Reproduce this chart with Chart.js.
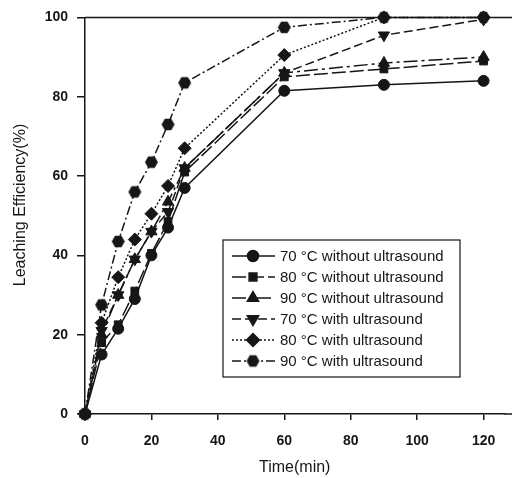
<!DOCTYPE html>
<html>
<head>
<meta charset="utf-8">
<script src="https://cdn.jsdelivr.net/npm/chart.js@4.4.1/dist/chart.umd.min.js"></script>
<style>
html, body { margin: 0; padding: 0; background: #fff; }
#wrap { width: 512px; height: 478px; }
</style>
</head>
<body>
<div id="wrap"><canvas id="leach-chart" width="512" height="478"></canvas></div>
<script>
// time axis (min) and leaching efficiency (%)
const timeMin = [0, 5, 10, 15, 20, 25, 30, 60, 90, 120];
const noUs70 = [0, 15, 21.5, 29, 40, 47, 57, 81.5, 83, 84];
const noUs80 = [0, 18, 22.5, 31, 40.5, 48.5, 61, 85, 87, 89];
const noUs90 = [0, 20, 30, 39, 46, 53.5, 62, 86, 88.5, 90];
const us70 = [0, 21, 30, 39, 46, 51, 62, 86, 95.5, 99.5];
const us80 = [0, 23, 34.5, 44, 50.5, 57.5, 67, 90.5, 100, 100];
const us90 = [0, 27.5, 43.5, 56, 63.5, 73, 83.5, 97.5, 100, 100];

const seriesLabels = [
    '70 \u00B0C without ultrasound',
    '80 \u00B0C without ultrasound',
    '90 \u00B0C without ultrasound',
    '70 \u00B0C with ultrasound',
    '80 \u00B0C with ultrasound',
    '90 \u00B0C with ultrasound'
];
const xTicks = [0, 20, 40, 60, 80, 100, 120];
const yTicks = [0, 20, 40, 60, 80, 100];
const xTitle = 'Time(min)';
const yTitle = 'Leaching Efficiency(%)';

const ink = '#161616';
const fontFamily = '"Liberation Sans", Arial, sans-serif';

//hexagon marker, chart.js has none
function makeHexagon(r) {
    var c = document.createElement('canvas');
    c.width = r * 2 + 2;
    c.height = r * 2 + 2;
    var g = c.getContext('2d');
    g.beginPath();
    for (var i = 0; i < 6; i++) {
        var a = Math.PI / 3 * i;
        var px = r + 1 + r * Math.cos(a);
        var py = r + 1 + r * Math.sin(a);
        if (i == 0) g.moveTo(px, py); else g.lineTo(px, py);
    }
    g.closePath();
    g.fillStyle = ink;
    g.fill();
    return c;
}
const hexMarker = makeHexagon(6.5);

function series(label, values, style, radius, rotation, dash) {
    return {
        label: label,
        data: timeMin.map(function (t, i) { return {x: t, y: values[i]}; }),
        borderColor: ink,
        backgroundColor: ink,
        borderWidth: 1.5,
        borderDash: dash,
        pointStyle: style,
        pointRadius: radius,
        pointRotation: rotation,
        pointBackgroundColor: ink,
        pointBorderColor: ink,
        pointBorderWidth: 1,
        tension: 0,
        clip: false
    };
}

const datasets = [
    series(seriesLabels[0], noUs70, 'circle', 5.5, 0, []),
    series(seriesLabels[1], noUs80, 'rect', 5.5, 0, [14, 4]),
    series(seriesLabels[2], noUs90, 'triangle', 6.5, 0, [14, 4, 3, 4]),
    series(seriesLabels[3], us70, 'triangle', 6.5, 180, [9, 4]),
    series(seriesLabels[4], us80, 'rectRot', 6.5, 0, [2, 2]),
    series(seriesLabels[5], us90, hexMarker, 6.5, 0, [9, 3, 2, 3])
];

// frame lines, y title and boxed legend inside the plot
const framePlugin = {
    id: 'frameAndLegend',
    afterDraw: function (chart) {
        const ctx = chart.ctx;
        const area = chart.chartArea;
        ctx.save();
        ctx.strokeStyle = ink;
        ctx.lineWidth = 1.5;
        ctx.beginPath();
        ctx.moveTo(area.left, area.top);
        ctx.lineTo(chart.width, area.top);
        ctx.moveTo(area.right, area.bottom);
        ctx.lineTo(chart.width, area.bottom);
        ctx.stroke();

        ctx.fillStyle = ink;
        ctx.font = '16px ' + fontFamily;
        ctx.textAlign = 'center';
        ctx.textBaseline = 'middle';
        ctx.save();
        ctx.translate(21, 205);
        ctx.rotate(-Math.PI / 2);
        ctx.fillText(yTitle, 0, 0);
        ctx.restore();

        var bx = 223, by = 240, bw = 237, bh = 137;
        ctx.fillStyle = '#fff';
        ctx.fillRect(bx, by, bw, bh);
        ctx.lineWidth = 1.2;
        ctx.strokeRect(bx, by, bw, bh);

        ctx.font = '15px ' + fontFamily;
        ctx.textAlign = 'left';
        chart.data.datasets.forEach(function (ds, i) {
            var y = 256 + i * 21;
            ctx.strokeStyle = ink;
            ctx.lineWidth = ds.borderWidth;
            ctx.setLineDash(ds.borderDash);
            ctx.beginPath();
            ctx.moveTo(232, y);
            ctx.lineTo(275, y);
            ctx.stroke();
            ctx.setLineDash([]);
            ctx.fillStyle = ink;
            Chart.helpers.drawPoint(ctx, {
                pointStyle: ds.pointStyle,
                radius: ds.pointRadius,
                rotation: ds.pointRotation,
                borderWidth: 1
            }, 253, y);
            ctx.fillStyle = ink;
            ctx.fillText(ds.label, 280, y + 1);
        });
        ctx.restore();
    }
};

const tickFont = {family: fontFamily, size: 14, weight: 'bold'};
const titleFont = {family: fontFamily, size: 16};

new Chart(document.getElementById('leach-chart'), {
    type: 'line',
    data: {datasets: datasets},
    options: {
        responsive: false,
        animation: false,
        layout: {padding: {top: 14, right: 0, left: 0, bottom: 0}},
        plugins: {
            legend: {display: false},
            tooltip: {enabled: false}
        },
        scales: {
            x: {
                type: 'linear',
                min: 0,
                max: 126.3,
                afterBuildTicks: function (scale) {
                    scale.ticks = xTicks.map(function (v) { return {value: v}; });
                },
                afterFit: function (scale) { scale.height = 64; },
                grid: {drawOnChartArea: false, tickLength: 6, color: ink, lineWidth: 1.5},
                border: {color: ink, width: 1.5},
                ticks: {font: tickFont, color: ink, padding: 13, maxRotation: 0},
                title: {display: true, text: xTitle, font: titleFont, color: ink, padding: {top: 0, bottom: 1}}
            },
            y: {
                min: 0,
                max: 100,
                afterBuildTicks: function (scale) {
                    scale.ticks = yTicks.map(function (v) { return {value: v}; });
                },
                afterFit: function (scale) { scale.width = 85; },
                grid: {drawOnChartArea: false, tickLength: 8, color: ink, lineWidth: 1.5},
                border: {color: ink, width: 1.5},
                ticks: {font: tickFont, color: ink, padding: 9}
            }
        }
    },
    plugins: [framePlugin]
});
</script>
</body>
</html>
